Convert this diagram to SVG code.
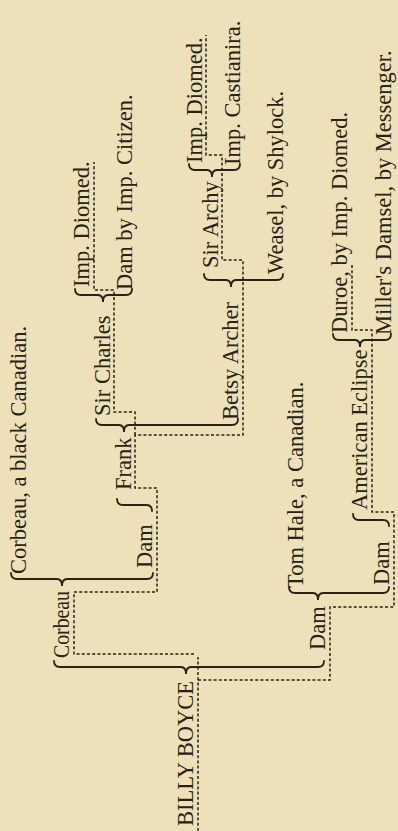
<svg xmlns="http://www.w3.org/2000/svg" width="398" height="831" viewBox="0 0 398 831">
<style>
.t{font-family:"Liberation Serif","Times New Roman",serif;font-size:22.5px;fill:#2a2214}
.b{fill:none;stroke:#2a2214;stroke-width:1.8;stroke-linecap:round}
.d{fill:none;stroke:#2a2214;stroke-width:1.5;stroke-dasharray:3 2.2}
</style>
<rect width="398" height="831" fill="#ece1b8"/>
<g id="connectors">
<path class="b" d="M54,661 Q54,667 60,667 H181 Q186,667 186,674 Q186,667 191,667 H318 Q324,667 324,661"/>
<path class="b" d="M11,573 Q11,579 17,579 H57 Q62,579 62,586 Q62,579 67,579 H147 Q153,579 153,573"/>
<path class="b" d="M96,419 Q96,425 102,425 H119 Q124,425 124,432 Q124,425 129,425 H232 Q238,425 238,419"/>
<path class="b" d="M75,289 Q75,295 81,295 H98 Q103,295 103,302 Q103,295 108,295 H126 Q132,295 132,289"/>
<path class="b" d="M204,274 Q204,280 210,280 H226 Q231,280 231,287 Q231,280 236,280 H277 Q283,280 283,274"/>
<path class="b" d="M189,164 Q189,170 195,170 H207 Q212,170 212,177 Q212,170 217,170 H234 Q240,170 240,164"/>
<path class="b" d="M289,587 Q289,593 295,593 H313 Q318,593 318,600 Q318,593 323,593 H383 Q389,593 389,587"/>
<path class="b" d="M333,334 Q333,340 339,340 H355 Q360,340 360,347 Q360,340 365,340 H385 Q391,340 391,334"/>
<path class="b" d="M117,499 Q117,505 123,505 H146 Q152,505 152,511"/>
<path class="b" d="M353,514 Q353,520 359,520 H383 Q389,520 389,526"/>
<path class="d" d="M198,831 V657"/>
<path class="d" d="M194,654 H74 V592 H157 V488 H135 V435 H243 V260 H222 V155 H206 V35"/>
<path class="d" d="M135,435 V412 H114 V290 H94 V162"/>
<path class="d" d="M198,680 H330 V607 H394 V512 H372 V330 H352 V263"/>
</g>
<g id="n-billy"><text class="t" transform="translate(193,826) rotate(-90)">BILLY BOYCE</text></g>
<g id="n-corbeau"><text class="t" transform="translate(69,658) rotate(-90)" textLength="67" lengthAdjust="spacingAndGlyphs">Corbeau</text></g>
<g id="n-corbeau-sire"><text class="t" transform="translate(26,574) rotate(-90)">Corbeau, a black Canadian.</text></g>
<g id="n-dam-a"><text class="t" transform="translate(152,568) rotate(-90)">Dam</text></g>
<g id="n-frank"><text class="t" transform="translate(131,490) rotate(-90)">Frank</text></g>
<g id="n-sir-charles"><text class="t" transform="translate(110,416) rotate(-90)">Sir Charles</text></g>
<g id="n-diomed-1"><text class="t" transform="translate(89,287) rotate(-90)">Imp. Diomed.</text></g>
<g id="n-dam-citizen"><text class="t" transform="translate(132,290) rotate(-90)">Dam by Imp. Citizen.</text></g>
<g id="n-betsy"><text class="t" transform="translate(238,420) rotate(-90)">Betsy Archer</text></g>
<g id="n-sir-archy"><text class="t" transform="translate(218,268) rotate(-90)">Sir Archy</text></g>
<g id="n-diomed-2"><text class="t" transform="translate(202,163) rotate(-90)">Imp. Diomed.</text></g>
<g id="n-castianira"><text class="t" transform="translate(240,165) rotate(-90)">Imp. Castianira.</text></g>
<g id="n-weasel"><text class="t" transform="translate(283,274) rotate(-90)">Weasel, by Shylock.</text></g>
<g id="n-dam-b"><text class="t" transform="translate(325,650) rotate(-90)">Dam</text></g>
<g id="n-tom-hale"><text class="t" transform="translate(303,588) rotate(-90)">Tom Hale, a Canadian.</text></g>
<g id="n-dam-c"><text class="t" transform="translate(389,585) rotate(-90)">Dam</text></g>
<g id="n-american-eclipse"><text class="t" transform="translate(367,510) rotate(-90)">American Eclipse</text></g>
<g id="n-duroe"><text class="t" transform="translate(347,333) rotate(-90)">Duroe, by Imp. Diomed.</text></g>
<g id="n-millers-damsel"><text class="t" transform="translate(391,335) rotate(-90)">Miller's Damsel, by Messenger.</text></g>
</svg>
